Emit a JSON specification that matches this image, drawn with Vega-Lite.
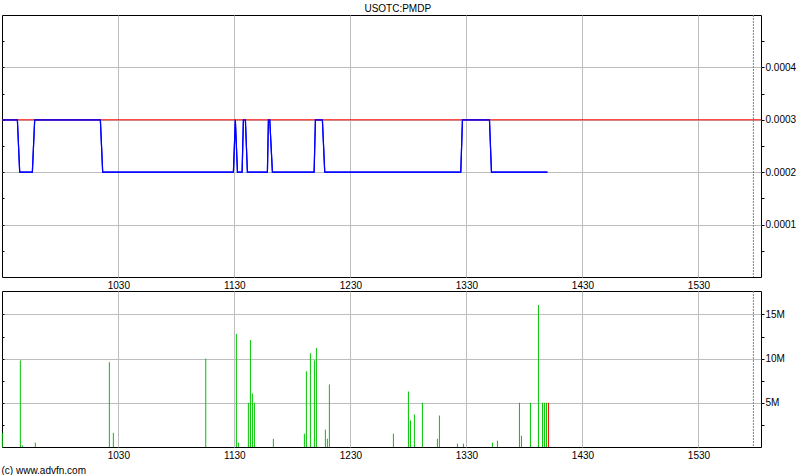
{
  "$schema": "https://vega.github.io/schema/vega-lite/v6.json",
  "padding": {"left": -1, "top": 4, "right": 0, "bottom": 0},
  "background": "white",
  "title": {"text": "USOTC:PMDP", "font": "Liberation Sans", "fontSize": 10, "fontWeight": "normal", "color": "#000000", "offset": 0, "anchor": "middle"},
  "spacing": -4,
  "datasets": {
    "price": [
      {"t": "2023-01-03T09:30:00", "p": 0.0003},
      {"t": "2023-01-03T09:37:47", "p": 0.0003},
      {"t": "2023-01-03T09:38:59", "p": 0.0002},
      {"t": "2023-01-03T09:45:32", "p": 0.0002},
      {"t": "2023-01-03T09:46:44", "p": 0.0003},
      {"t": "2023-01-03T10:20:42", "p": 0.0003},
      {"t": "2023-01-03T10:21:54", "p": 0.0002},
      {"t": "2023-01-03T11:29:30", "p": 0.0002},
      {"t": "2023-01-03T11:30:30", "p": 0.0003},
      {"t": "2023-01-03T11:31:36", "p": 0.0002},
      {"t": "2023-01-03T11:34:00", "p": 0.0002},
      {"t": "2023-01-03T11:34:40", "p": 0.0003},
      {"t": "2023-01-03T11:35:42", "p": 0.0003},
      {"t": "2023-01-03T11:36:44", "p": 0.0002},
      {"t": "2023-01-03T11:47:05", "p": 0.0002},
      {"t": "2023-01-03T11:47:36", "p": 0.0003},
      {"t": "2023-01-03T11:48:18", "p": 0.0003},
      {"t": "2023-01-03T11:49:40", "p": 0.0002},
      {"t": "2023-01-03T12:11:14", "p": 0.0002},
      {"t": "2023-01-03T12:11:55", "p": 0.0003},
      {"t": "2023-01-03T12:15:31", "p": 0.0003},
      {"t": "2023-01-03T12:16:44", "p": 0.0002},
      {"t": "2023-01-03T13:27:05", "p": 0.0002},
      {"t": "2023-01-03T13:27:57", "p": 0.0003},
      {"t": "2023-01-03T13:41:55", "p": 0.0003},
      {"t": "2023-01-03T13:42:57", "p": 0.0002},
      {"t": "2023-01-03T14:11:54", "p": 0.0002}
    ],
    "volume": [
      {"t": "2023-01-03T09:30:00", "v": 1600000, "dir": "up"},
      {"t": "2023-01-03T09:39:19", "v": 9800000, "dir": "up"},
      {"t": "2023-01-03T09:40:21", "v": 180000, "dir": "up"},
      {"t": "2023-01-03T09:47:04", "v": 490000, "dir": "up"},
      {"t": "2023-01-03T10:25:21", "v": 9600000, "dir": "up"},
      {"t": "2023-01-03T10:27:25", "v": 1600000, "dir": "up"},
      {"t": "2023-01-03T11:15:12", "v": 10000000, "dir": "up"},
      {"t": "2023-01-03T11:31:02", "v": 12800000, "dir": "up"},
      {"t": "2023-01-03T11:32:04", "v": 500000, "dir": "up"},
      {"t": "2023-01-03T11:37:14", "v": 5000000, "dir": "up"},
      {"t": "2023-01-03T11:38:17", "v": 12100000, "dir": "up"},
      {"t": "2023-01-03T11:39:19", "v": 6060000, "dir": "up"},
      {"t": "2023-01-03T11:40:21", "v": 5000000, "dir": "up"},
      {"t": "2023-01-03T11:50:10", "v": 940000, "dir": "up"},
      {"t": "2023-01-03T12:06:12", "v": 1500000, "dir": "up"},
      {"t": "2023-01-03T12:07:14", "v": 8560000, "dir": "up"},
      {"t": "2023-01-03T12:09:19", "v": 10600000, "dir": "up"},
      {"t": "2023-01-03T12:11:23", "v": 9800000, "dir": "up"},
      {"t": "2023-01-03T12:12:25", "v": 11200000, "dir": "up"},
      {"t": "2023-01-03T12:17:04", "v": 1970000, "dir": "up"},
      {"t": "2023-01-03T12:18:06", "v": 940000, "dir": "up"},
      {"t": "2023-01-03T12:19:08", "v": 7080000, "dir": "up"},
      {"t": "2023-01-03T12:52:14", "v": 1500000, "dir": "up"},
      {"t": "2023-01-03T13:00:00", "v": 6280000, "dir": "up"},
      {"t": "2023-01-03T13:01:02", "v": 3000000, "dir": "up"},
      {"t": "2023-01-03T13:03:06", "v": 3670000, "dir": "up"},
      {"t": "2023-01-03T13:07:14", "v": 5000000, "dir": "up"},
      {"t": "2023-01-03T13:15:00", "v": 940000, "dir": "up"},
      {"t": "2023-01-03T13:16:02", "v": 3560000, "dir": "up"},
      {"t": "2023-01-03T13:25:20", "v": 370000, "dir": "up"},
      {"t": "2023-01-03T13:28:27", "v": 370000, "dir": "up"},
      {"t": "2023-01-03T13:43:27", "v": 490000, "dir": "up"},
      {"t": "2023-01-03T13:46:02", "v": 720000, "dir": "up"},
      {"t": "2023-01-03T13:57:25", "v": 5000000, "dir": "up"},
      {"t": "2023-01-03T13:58:27", "v": 1280000, "dir": "up"},
      {"t": "2023-01-03T14:03:06", "v": 5000000, "dir": "up"},
      {"t": "2023-01-03T14:07:14", "v": 16060000, "dir": "up"},
      {"t": "2023-01-03T14:09:19", "v": 5000000, "dir": "up"},
      {"t": "2023-01-03T14:10:20", "v": 5000000, "dir": "up"},
      {"t": "2023-01-03T14:11:23", "v": 5000000, "dir": "up"},
      {"t": "2023-01-03T14:12:25", "v": 5000000, "dir": "down"}
    ],
    "close": [{"p": 0.0003}],
    "marker": [{"t": "2023-01-03T15:58:24"}]
  },
  "vconcat": [
    {
      "width": 759,
      "height": 262,
      "resolve": {"axis": {"y": "independent"}},
      "layer": [
        {
          "data": {"name": "price"},
          "mark": {"type": "line", "color": "#0000ff", "strokeWidth": 1.2},
          "encoding": {
            "x": {"field": "t", "type": "temporal",
              "scale": {"domain": [{"year": 2023, "month": 1, "date": 3, "hours": 9, "minutes": 29, "seconds": 50}, {"year": 2023, "month": 1, "date": 3, "hours": 16, "minutes": 2, "seconds": 20}], "nice": false},
              "axis": {"values": [
                {"year": 2023, "month": 1, "date": 3, "hours": 10, "minutes": 30},
                {"year": 2023, "month": 1, "date": 3, "hours": 11, "minutes": 30},
                {"year": 2023, "month": 1, "date": 3, "hours": 12, "minutes": 30},
                {"year": 2023, "month": 1, "date": 3, "hours": 13, "minutes": 30},
                {"year": 2023, "month": 1, "date": 3, "hours": 14, "minutes": 30},
                {"year": 2023, "month": 1, "date": 3, "hours": 15, "minutes": 30}
              ], "format": "%H%M", "grid": true, "ticks": false, "labelPadding": 3, "domain": false}},
            "y": {"field": "p", "type": "quantitative", "scale": {"domain": [0, 0.0005], "nice": false, "zero": false},
              "axis": {"orient": "right", "values": [0.00005, 0.0001, 0.00015, 0.0002, 0.00025, 0.0003, 0.00035, 0.0004, 0.00045],
                "labelExpr": "abs(datum.value*10000 - round(datum.value*10000)) < 0.001 ? format(datum.value, '.4f') : ''",
                "gridOpacity": {"condition": {"test": "abs(datum.value*10000 - round(datum.value*10000)) < 0.001", "value": 1}, "value": 0},
                "grid": true, "ticks": true, "tickSize": 3, "tickColor": "#000000", "labelPadding": 1, "domain": false}}
          }
        },
        {
          "data": {"name": "close"},
          "mark": {"type": "rule", "color": "#ff0000", "strokeWidth": 1},
          "encoding": {
            "y": {"field": "p", "type": "quantitative", "scale": {"domain": [0, 0.0005], "nice": false, "zero": false},
              "axis": {"orient": "left", "values": [0.00005, 0.0001, 0.00015, 0.0002, 0.00025, 0.0003, 0.00035, 0.0004, 0.00045], "labels": false, "grid": false, "ticks": true, "tickSize": -2, "tickColor": "#000000", "domain": false, "minExtent": 0, "maxExtent": 0}}
          }
        },
        {
          "data": {"name": "marker"},
          "mark": {"type": "rule", "color": "#6f8a8a", "strokeWidth": 1, "strokeDash": [2, 1]},
          "encoding": {
            "x": {"field": "t", "type": "temporal"}
          }
        },
        {
          "data": {"name": "price"},
          "mark": {"type": "line", "color": "#0000ff", "strokeWidth": 1.2},
          "encoding": {
            "x": {"field": "t", "type": "temporal"},
            "y": {"field": "p", "type": "quantitative", "axis": null}
          }
        }
      ]
    },
    {
      "width": 759,
      "height": 156,
      "title": {"text": "(c) www.advfn.com", "orient": "bottom", "anchor": "start", "font": "Liberation Sans", "fontSize": 10, "fontWeight": "normal", "color": "#000000", "offset": 6},
      "resolve": {"axis": {"y": "independent"}},
      "layer": [
        {
          "data": {"name": "volume"},
          "mark": {"type": "rule", "strokeWidth": 1},
          "encoding": {
            "x": {"field": "t", "type": "temporal",
              "scale": {"domain": [{"year": 2023, "month": 1, "date": 3, "hours": 9, "minutes": 29, "seconds": 50}, {"year": 2023, "month": 1, "date": 3, "hours": 16, "minutes": 2, "seconds": 20}], "nice": false},
              "axis": {"values": [
                {"year": 2023, "month": 1, "date": 3, "hours": 10, "minutes": 30},
                {"year": 2023, "month": 1, "date": 3, "hours": 11, "minutes": 30},
                {"year": 2023, "month": 1, "date": 3, "hours": 12, "minutes": 30},
                {"year": 2023, "month": 1, "date": 3, "hours": 13, "minutes": 30},
                {"year": 2023, "month": 1, "date": 3, "hours": 14, "minutes": 30},
                {"year": 2023, "month": 1, "date": 3, "hours": 15, "minutes": 30}
              ], "format": "%H%M", "grid": true, "ticks": false, "labelPadding": 3, "domain": false}},
            "y": {"field": "v", "type": "quantitative", "scale": {"domain": [0, 17650000], "nice": false},
              "axis": {"orient": "right", "values": [2500000, 5000000, 7500000, 10000000, 12500000, 15000000],
                "labelExpr": "datum.value % 5000000 == 0 ? (datum.value/1000000) + 'M' : ''",
                "gridOpacity": {"condition": {"test": "datum.value % 5000000 == 0", "value": 1}, "value": 0},
                "grid": true, "ticks": true, "tickSize": 3, "tickColor": "#000000", "labelPadding": 1, "domain": false}},
            "y2": {"datum": 0},
            "color": {"field": "dir", "type": "nominal", "scale": {"domain": ["up", "down"], "range": ["#00c400", "#ff0000"]}, "legend": null}
          }
        },
        {
          "data": {"name": "close"},
          "mark": {"type": "rule", "opacity": 0},
          "encoding": {
            "y": {"datum": 0, "type": "quantitative", "scale": {"domain": [0, 17650000], "nice": false},
              "axis": {"orient": "left", "values": [2500000, 5000000, 7500000, 10000000, 12500000, 15000000], "labels": false, "grid": false, "ticks": true, "tickSize": -2, "tickColor": "#000000", "domain": false, "minExtent": 0, "maxExtent": 0}}
          }
        },
        {
          "data": {"name": "marker"},
          "mark": {"type": "rule", "color": "#6f8a8a", "strokeWidth": 1, "strokeDash": [2, 1]},
          "encoding": {
            "x": {"field": "t", "type": "temporal"}
          }
        }
      ]
    }
  ],
  "config": {
    "view": {"stroke": "#000000", "strokeWidth": 1},
    "axis": {"labelFont": "Liberation Sans", "labelFontSize": 10, "labelColor": "#000000", "gridColor": "#bdbdbd", "gridWidth": 1, "title": null}
  }
}
